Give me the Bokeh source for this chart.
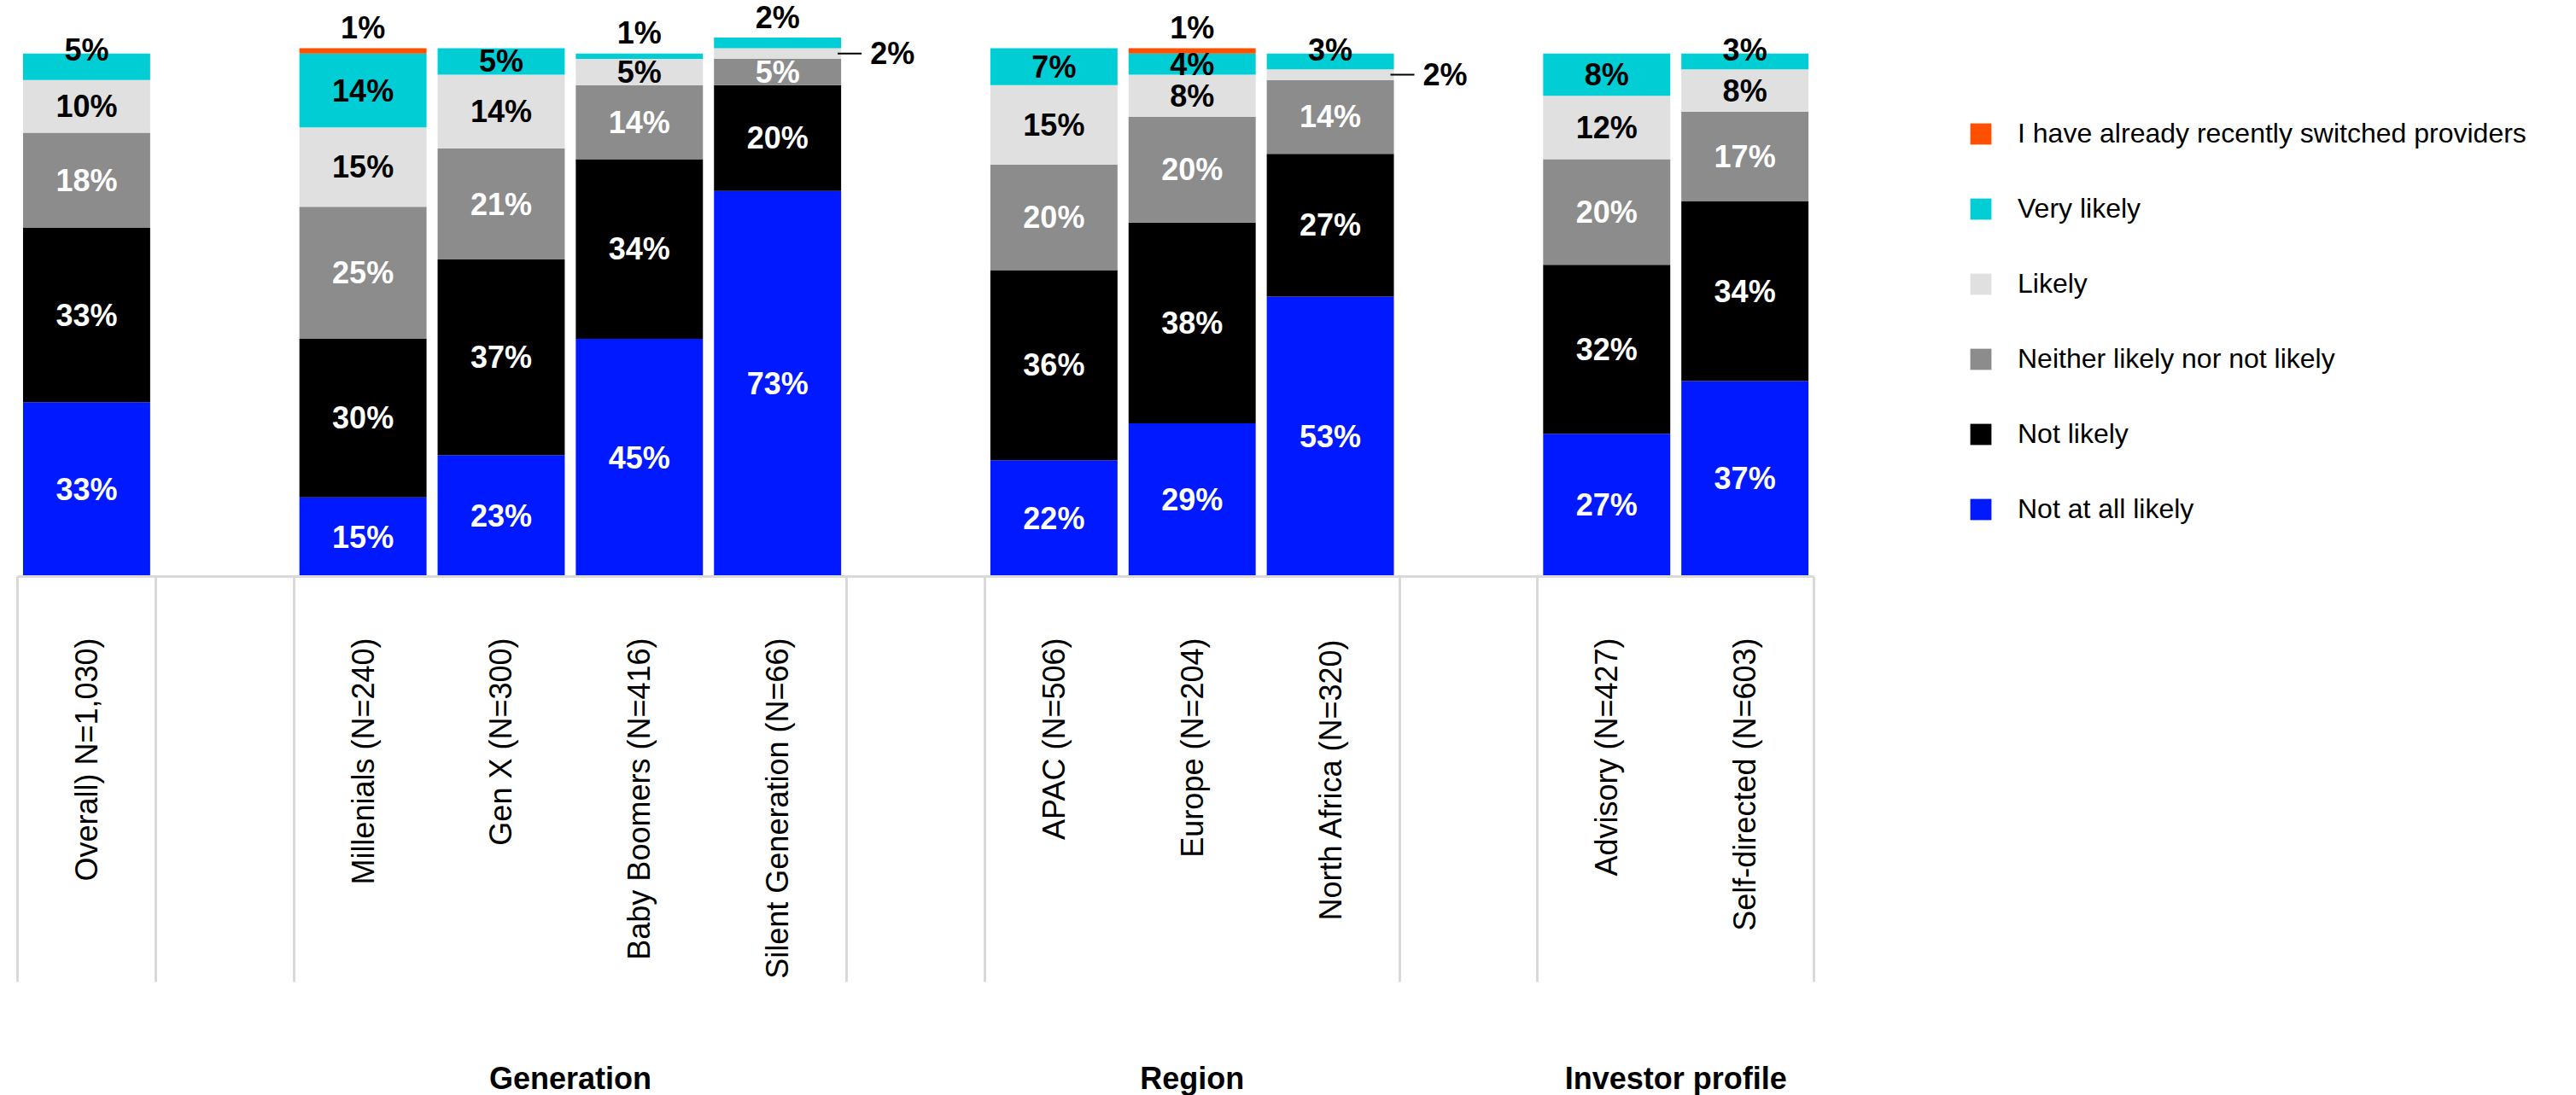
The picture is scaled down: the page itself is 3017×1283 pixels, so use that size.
import math
from bokeh.plotting import figure
from bokeh.models import Range1d, LinearAxis, FixedTicker, ColumnDataSource
from bokeh.core.properties import value
from bokeh.embed import file_html
from bokeh.resources import INLINE

# ---------------- data ----------------
categories = ["Overall) N=1,030)", "Millenials (N=240)", "Gen X (N=300)", "Baby Boomers (N=416)",
              "Silent Generation (N=66)", "APAC (N=506)", "Europe (N=204)", "North Africa (N=320)",
              "Advisory (N=427)", "Self-directed (N=603)"]
groups = ["", "Generation", "Generation", "Generation", "Generation",
          "Region", "Region", "Region", "Investor profile", "Investor profile"]

not_at_all = [33, 15, 23, 45, 73, 22, 29, 53, 27, 37]
not_likely = [33, 30, 37, 34, 20, 36, 38, 27, 32, 34]
neither = [18, 25, 21, 14, 5, 20, 20, 14, 20, 17]
likely = [10, 15, 14, 5, 2, 15, 8, 2, 12, 8]
very_likely = [5, 14, 5, 1, 2, 7, 4, 3, 8, 3]
switched = [0, 1, 0, 0, 0, 0, 1, 0, 0, 0]

series_keys = ["not_at_all", "not_likely", "neither", "likely", "very_likely", "switched"]
series_values = [not_at_all, not_likely, neither, likely, very_likely, switched]
legend_labels = ["Not at all likely", "Not likely", "Neither likely nor not likely", "Likely",
                 "Very likely", "I have already recently switched providers"]

# ---------------- style ----------------
colors = ["#0019FF", "#000000", "#8C8C8C", "#E0E0E0", "#00CED4", "#FF4F00"]
text_colors = ["white", "white", "white", "black", "black", "black"]
label_mode = {
    ("Overall) N=1,030)", "very_likely"): "top",
    ("Millenials (N=240)", "switched"): "above",
    ("Baby Boomers (N=416)", "very_likely"): "above",
    ("Silent Generation (N=66)", "very_likely"): "above",
    ("Silent Generation (N=66)", "likely"): "side",
    ("Europe (N=204)", "switched"): "above",
    ("North Africa (N=320)", "very_likely"): "top",
    ("North Africa (N=320)", "likely"): "side",
    ("Self-directed (N=603)", "very_likely"): "top",
}
FONT = "Liberation Sans"
GRID = "#D9D9D9"
slot_px = 161.85
bar_width = 0.92
px_per_pct = 6.19
sep_len = 475

# ---------------- slot layout (groups separated by an empty slot) ----------------
x_pos = []
slot = 0
for i, g in enumerate(groups):
    if i > 0 and g != groups[i - 1]:
        slot += 1
    x_pos.append(slot)
    slot += 1
n_slots = slot
group_spans = {}
for g, x in zip(groups, x_pos):
    lo, hi = group_spans.get(g, (x, x))
    group_spans[g] = (min(lo, x), max(hi, x))
boundaries = sorted({b for lo, hi in group_spans.values() for b in (lo - 0.5, hi + 0.5)})
group_ticks = [(lo + hi) / 2 for g, (lo, hi) in group_spans.items() if g]
group_names = [g for g in group_spans if g]

# ---------------- figure ----------------
x_start = -0.5 - 20 / slot_px
x_end = x_start + 3017 / slot_px
p = figure(frame_width=3017, frame_height=675,
           x_range=Range1d(x_start, x_end), y_range=Range1d(0, 675 / px_per_pct),
           x_axis_type=None, y_axis_type=None, toolbar_location=None,
           output_backend="svg", min_border=0, outline_line_color=None,
           background_fill_color="white", border_fill_color="white")

data = {"x": x_pos}
for k, v in zip(series_keys, series_values):
    data[k] = v
src = ColumnDataSource(data)
p.vbar_stack(series_keys, x="x", width=bar_width, color=colors, line_color=None,
             source=src, legend_label=legend_labels)

# ---------------- value labels ----------------
lab = dict(x=[], y=[], text=[], color=[], yoff=[])
side = dict(x=[], y=[], text=[], x0=[], x1=[])
half = bar_width / 2
for i, cat in enumerate(categories):
    total = sum(s[i] for s in series_values)
    base = 0
    for key, vals, tc in zip(series_keys, series_values, text_colors):
        v = vals[i]
        if v == 0:
            continue
        mode = label_mode.get((cat, key), "in")
        txt = f"{v}%"
        if mode == "side":
            edge = x_pos[i] + half
            side["x"].append(edge + 34 / slot_px)
            side["y"].append(base + v / 2)
            side["text"].append(txt)
            side["x0"].append(edge - 4 / slot_px)
            side["x1"].append(edge + 24 / slot_px)
        else:
            lab["x"].append(x_pos[i])
            lab["text"].append(txt)
            if mode == "in":
                lab["y"].append(base + v / 2)
                lab["yoff"].append(0)
                lab["color"].append(tc)
            elif mode == "top":
                lab["y"].append(total)
                lab["yoff"].append(-4)
                lab["color"].append("black")
            else:
                lab["y"].append(total)
                lab["yoff"].append(-24)
                lab["color"].append("black")
        base += v

p.text(x="x", y="y", text="text", source=ColumnDataSource(lab), text_color="color",
       y_offset="yoff", text_align="center", text_baseline="middle",
       text_font=value(FONT), text_font_style="bold", text_font_size="36px")
sside = ColumnDataSource(side)
p.segment(x0="x0", y0="y", x1="x1", y1="y", source=sside, line_color="black", line_width=2)
p.text(x="x", y="y", text="text", source=sside, text_color="black",
       text_align="left", text_baseline="middle",
       text_font=value(FONT), text_font_style="bold", text_font_size="36px")

# ---------------- axes ----------------
ax1 = LinearAxis(ticker=FixedTicker(ticks=x_pos, minor_ticks=boundaries),
                 bounds=(-0.5, n_slots - 0.5),
                 major_label_overrides={x: c for x, c in zip(x_pos, categories)},
                 major_label_orientation=math.pi / 2, major_label_standoff=72 - sep_len,
                 major_label_text_font=FONT, major_label_text_font_size="36px",
                 major_label_text_color="black",
                 axis_line_color=GRID, axis_line_width=3,
                 major_tick_out=0, major_tick_in=0, major_tick_line_color=None,
                 minor_tick_out=sep_len, minor_tick_in=0,
                 minor_tick_line_color=GRID, minor_tick_line_width=3)
p.add_layout(ax1, "below")

ax2 = LinearAxis(ticker=FixedTicker(ticks=group_ticks, minor_ticks=[]),
                 major_label_overrides={t: g for t, g in zip(group_ticks, group_names)},
                 major_label_standoff=93,
                 major_label_text_font=FONT, major_label_text_font_size="36px",
                 major_label_text_font_style="bold", major_label_text_color="black",
                 axis_line_color=None, major_tick_line_color=None, minor_tick_line_color=None,
                 major_tick_out=0, major_tick_in=0)
p.add_layout(ax2, "below")

# ---------------- legend ----------------
leg = p.legend[0]
leg.items = list(reversed(leg.items))
leg.location = (2304, 59)
leg.padding = 0
leg.margin = 0
leg.spacing = 48
leg.label_height = 40
leg.glyph_height = 31
leg.glyph_width = 31
leg.label_standoff = 28
leg.label_text_font = FONT
leg.label_text_font_size = "32px"
leg.label_text_color = "black"
leg.border_line_color = None
leg.background_fill_alpha = 0

open("out.html", "w").write(file_html(p, INLINE))
